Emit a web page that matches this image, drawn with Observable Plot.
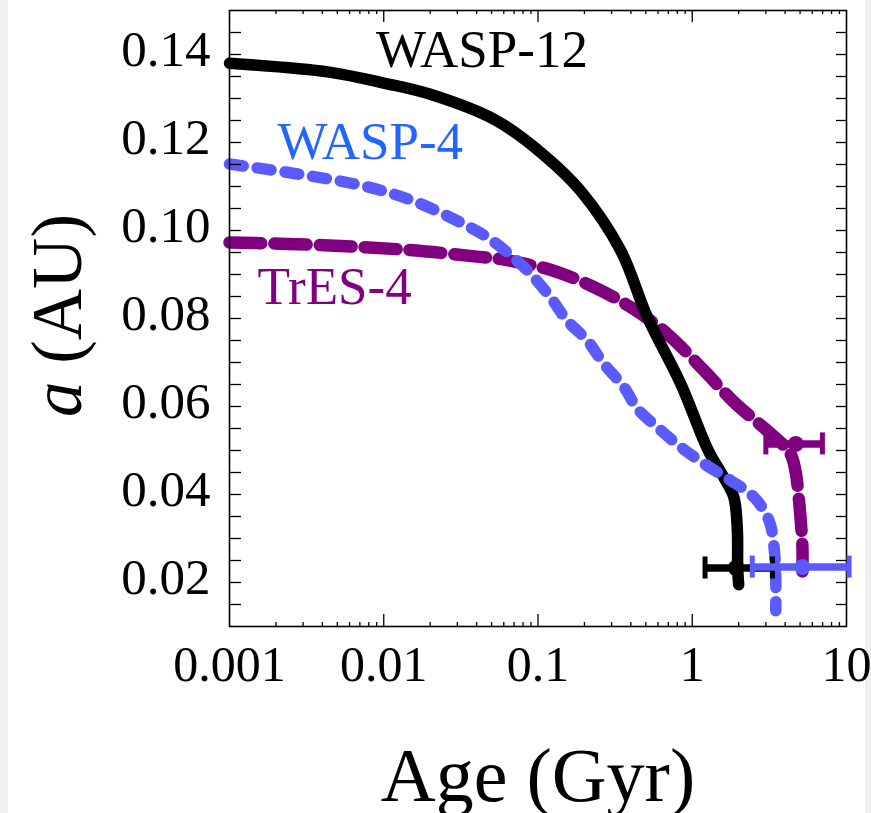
<!DOCTYPE html>
<html><head><meta charset="utf-8">
<script src="https://cdn.jsdelivr.net/npm/d3@7"></script>
<script src="https://cdn.jsdelivr.net/npm/@observablehq/plot@0.6"></script>
<style>
html,body{margin:0;padding:0;background:#fff;}
#wrap{position:relative;width:871px;height:813px;overflow:hidden;background:#fff;}
.band{position:absolute;top:0;height:813px;background:#efefef;}
#wrap svg{position:absolute;left:0;top:0;}
</style></head><body>
<div id="wrap"><div class="band" style="left:0;width:8px"></div><div class="band" style="left:865px;width:6px"></div></div>
<script>
// ---- data ----
const wasp12Age = [0.001, 0.00443, 0.01, 0.0198, 0.0536, 0.113, 0.189, 0.343, 0.512, 0.841, 1.27, 1.6, 1.86, 1.96, 1.97, 2.0];
const wasp12A   = [0.138, 0.136, 0.1335, 0.131, 0.125, 0.1167, 0.109, 0.0955, 0.0803, 0.0652, 0.050, 0.0439, 0.0394, 0.032, 0.0235, 0.0195];

const wasp4Age = [0.001, 0.0027, 0.00726, 0.01535, 0.0324, 0.0468, 0.0684, 0.0893, 0.1205, 0.1545, 0.2085, 0.267, 0.361, 0.4406, 0.593, 0.841, 1.192, 1.774, 2.513, 3.145, 3.39, 3.477, 3.477];
const wasp4A   = [0.1151, 0.1129, 0.1102, 0.1068, 0.1016, 0.0985, 0.0940, 0.0902, 0.0848, 0.0795, 0.075, 0.0697, 0.0644, 0.0595, 0.0553, 0.0508, 0.047, 0.0432, 0.0394, 0.0341, 0.028, 0.0212, 0.0136];

const tres4Age = [0.001, 0.00443, 0.0154, 0.0417, 0.060, 0.0881, 0.1205, 0.219, 0.398, 0.689, 1.19, 1.866, 3.07, 4.01, 4.42, 4.7, 4.85, 5.05, 5.18, 5.18];
const tres4A   = [0.0973, 0.0966, 0.0955, 0.094, 0.0934, 0.0922, 0.0911, 0.0875, 0.0826, 0.0765, 0.0682, 0.0610, 0.0545, 0.0508, 0.0486, 0.0448, 0.0409, 0.0341, 0.028, 0.0225];

// observed ages with error bars
const obsName  = ["WASP-12", "TrES-4", "WASP-4"];
const obsAge   = [1.92, 4.69, 5.18];
const obsAgeLo = [1.21, 3.0, 2.45];
const obsAgeHi = [3.31, 6.98, 10.4];
const obsA     = [0.0233, 0.0515, 0.0235];

const seriesNames  = ["WASP-12", "WASP-4", "TrES-4"];
const xTickLabels = [0.001, 0.01, 0.1, 1, 10];
const yTickLabels = [0.02, 0.04, 0.06, 0.08, 0.10, 0.12, 0.14];

// ---- styles ----
const FONT = "'Liberation Serif','Times New Roman',Times,serif";
const lineColor  = {"WASP-12": "#000000", "WASP-4": "#5a5aff", "TrES-4": "#800080"};
const labelColor = {"WASP-12": "#000000", "WASP-4": "#2266ff", "TrES-4": "#800080"};

const toRows = (ages, as) => ages.map((t, i) => ({age: t, a: as[i]}));
const wasp12 = toRows(wasp12Age, wasp12A);
const wasp4 = toRows(wasp4Age, wasp4A);
const tres4 = toRows(tres4Age, tres4A);
const obs = obsName.map((n, i) => ({name: n, age: obsAge[i], lo: obsAgeLo[i], hi: obsAgeHi[i], a: obsA[i]}));

// label anchors (data coordinates)
const labels = [
  {name: "WASP-12", age: 0.0089, a: 0.1371},
  {name: "WASP-4", age: 0.00205, a: 0.1163},
  {name: "TrES-4", age: 0.00152, a: 0.0833}
];

// minor ticks for log axis
const xMinor = [];
for (let k = -3; k <= 0; k++) for (let m = 2; m <= 9; m++) xMinor.push(m * Math.pow(10, k));
const xMajorInner = [0.01, 0.1, 1];
const yTicks = d3.range(3, 30).map(i => i * 0.005);

const W = 871, H = 813, ML = 229, MR = 25, MT = 10, MB = 187;
const FW = W - ML - MR, FH = H - MT - MB;

const marks = [
  Plot.line(tres4, {x: "age", y: "a", stroke: lineColor["TrES-4"], strokeWidth: 12.5, strokeDasharray: "32,13", curve: "catmull-rom"}),
  Plot.line(wasp12, {x: "age", y: "a", stroke: lineColor["WASP-12"], strokeWidth: 11.5, curve: "catmull-rom"}),
  Plot.line(wasp4, {x: "age", y: "a", stroke: lineColor["WASP-4"], strokeWidth: 11.5, strokeDasharray: "14,14", curve: "catmull-rom"}),
  // ticks
  Plot.tickY(yTicks, {y: d => d, insetRight: FW - 12, stroke: "black", strokeWidth: 1.3}),
  Plot.tickY(yTicks, {y: d => d, insetLeft: FW - 10, stroke: "black", strokeWidth: 1.3}),
  Plot.tickX(xMinor, {x: d => d, insetTop: FH - 4, stroke: "black", strokeWidth: 1.3}),
  Plot.tickX(xMinor, {x: d => d, insetBottom: FH - 4, stroke: "black", strokeWidth: 1.3}),
  Plot.tickX(xMajorInner, {x: d => d, insetTop: FH - 12, stroke: "black", strokeWidth: 1.3}),
  Plot.tickX(xMajorInner, {x: d => d, insetBottom: FH - 12, stroke: "black", strokeWidth: 1.3}),
  Plot.frame({stroke: "black", strokeWidth: 1.6}),
  // tick labels
  Plot.text(yTickLabels, {y: d => d, frameAnchor: "left", textAnchor: "end", dx: -19, dy: -5, text: d => d3.format(".2f")(d), fontSize: 51, fontFamily: FONT, fill: "black"}),
  Plot.text(xTickLabels, {x: d => d, frameAnchor: "bottom", lineAnchor: "bottom", dy: 54, text: d => String(d), fontSize: 50, fontFamily: FONT, fill: "black"}),
  // axis titles
  Plot.text(["Age (Gyr)"], {frameAnchor: "bottom", lineAnchor: "bottom", dy: 174, text: d => d, fontSize: 76, fontFamily: FONT, fill: "black"}),
  Plot.text(["a (AU)"], {frameAnchor: "left", textAnchor: "middle", rotate: -90, dx: -149, dy: -3, lineAnchor: "bottom", text: d => d, fontSize: 71, fontFamily: FONT, fill: "black"}),
  // series labels
  ...labels.map(l => Plot.text([l], {x: "age", y: "a", text: "name", textAnchor: "start", lineAnchor: "bottom", fontSize: 53, fontFamily: FONT, fill: labelColor[l.name]}))
];

// error bars
for (const o of obs) {
  const c = lineColor[o.name];
  marks.push(
    Plot.ruleY([o], {y: "a", x1: "lo", x2: "hi", stroke: c, strokeWidth: 7.5}),
    Plot.ruleX([o], {x: "lo", y1: d => d.a - 0.0025, y2: d => d.a + 0.0025, stroke: c, strokeWidth: 5}),
    Plot.ruleX([o], {x: "hi", y1: d => d.a - 0.0025, y2: d => d.a + 0.0025, stroke: c, strokeWidth: 5}),
    Plot.dot([o], {x: "age", y: "a", r: 8, fill: c, stroke: "none"})
  );
}

const chart = Plot.plot({
  width: W, height: H,
  marginLeft: ML, marginRight: MR, marginTop: MT, marginBottom: MB,
  style: {fontFamily: FONT, background: "transparent", overflow: "visible"},
  x: {type: "log", domain: [0.001, 10], axis: null},
  y: {domain: [0.01, 0.15], axis: null},
  marks
});

// italic "a" in the y-axis title
d3.select(chart).selectAll("text").each(function() {
  if (this.textContent === "a (AU)") {
    const t = d3.select(this);
    t.text(null);
    t.append("tspan").attr("font-style", "italic").text("a");
    t.append("tspan").text(" (AU)");
  }
});

document.getElementById("wrap").appendChild(chart);
</script>
</body></html>
